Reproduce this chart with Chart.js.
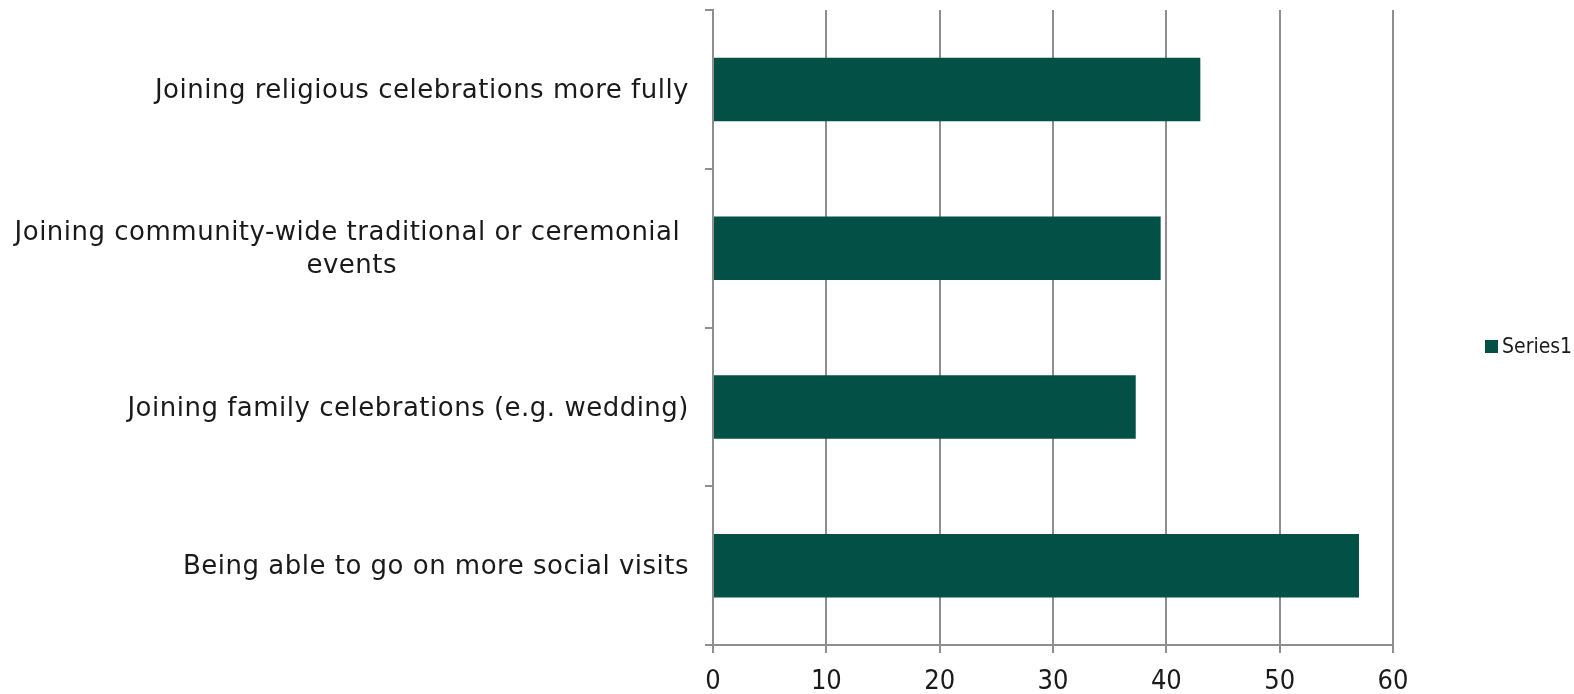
<!DOCTYPE html>
<html>
<head>
<meta charset="utf-8">
<script src="https://cdn.jsdelivr.net/npm/chart.js@4/dist/chart.umd.min.js"></script>
<style>
  html, body { margin: 0; padding: 0; background: #fff; }
  #wrap { width: 1574px; height: 694px; }
</style>
</head>
<body>
<div id="wrap"><canvas id="chart"></canvas></div>
<script>
// categories, top to bottom
const categories = [
  ['Joining religious celebrations more fully'],
  ['Joining community-wide traditional or ceremonial ', 'events'],
  ['Joining family celebrations (e.g. wedding)'],
  ['Being able to go on more social visits']
];
const seriesName = 'Series1';
const values = [43, 39.5, 37.3, 57];
const xTicks = [0, 10, 20, 30, 40, 50, 60];

const FONT = '"DejaVu Sans", Verdana, sans-serif';
const NARROW = '"Liberation Sans Narrow", "DejaVu Sans Condensed", sans-serif';
const barColor = '#025046';
const gridColor = '#8e8e8e';
const textColor = '#1a1a1a';

// category labels: right aligned block, lines centred inside it
const categoryLabels = {
  id: 'categoryLabels',
  afterDraw(chart) {
    const ctx = chart.ctx;
    const y = chart.scales.y;
    const right = y.right - 24;
    const lh = 33;
    ctx.save();
    ctx.font = '26px ' + FONT;
    ctx.letterSpacing = '0.5px';
    ctx.fillStyle = textColor;
    ctx.textAlign = 'center';
    ctx.textBaseline = 'middle';
    categories.forEach((lines, i) => {
      const cy = y.getPixelForValue(i) + 2;
      const w = Math.max(...lines.map(l => ctx.measureText(l).width));
      const cx = right - w / 2;
      lines.forEach((l, j) => {
        ctx.fillText(l, cx, cy + (j - (lines.length - 1) / 2) * lh);
      });
    });
    ctx.restore();
  }
};

// legend on the right, drawn like the original
const sideLegend = {
  id: 'sideLegend',
  afterDraw(chart) {
    const ctx = chart.ctx;
    const ds = chart.data.datasets[0];
    ctx.save();
    ctx.fillStyle = ds.backgroundColor;
    ctx.fillRect(1485, 340, 13, 13);
    ctx.font = '21px ' + NARROW;
    ctx.fillStyle = textColor;
    ctx.textBaseline = 'middle';
    ctx.fillText(ds.label, 1502, 348);
    ctx.restore();
  }
};

new Chart(document.getElementById('chart'), {
  type: 'bar',
  data: {
    labels: categories.map(c => c.join(' ')),
    datasets: [{
      label: seriesName,
      data: values,
      backgroundColor: barColor,
      borderWidth: 0,
      barPercentage: 0.4,
      categoryPercentage: 1
    }]
  },
  options: {
    indexAxis: 'y',
    responsive: true,
    maintainAspectRatio: false,
    animation: false,
    layout: { padding: { top: 10, right: 181, bottom: 0, left: 0 } },
    plugins: {
      legend: { display: false },
      tooltip: { enabled: false }
    },
    scales: {
      x: {
        min: 0,
        max: 60,
        afterBuildTicks: (scale) => { scale.ticks = xTicks.map(v => ({ value: v })); },
        afterFit: (scale) => { scale.height = 49; },
        grid: { color: gridColor, lineWidth: 2, tickLength: 8 },
        border: { color: gridColor, width: 2 },
        ticks: {
          color: textColor,
          padding: 15,
          font: { family: NARROW, size: 27, lineHeight: 1 },
          maxRotation: 0
        }
      },
      y: {
        afterFit: (scale) => { scale.width = 713; },
        grid: { drawOnChartArea: false, color: gridColor, lineWidth: 2, tickLength: 8, offset: true },
        border: { color: gridColor, width: 2 },
        ticks: { display: false }
      }
    }
  },
  plugins: [categoryLabels, sideLegend]
});
</script>
</body>
</html>
